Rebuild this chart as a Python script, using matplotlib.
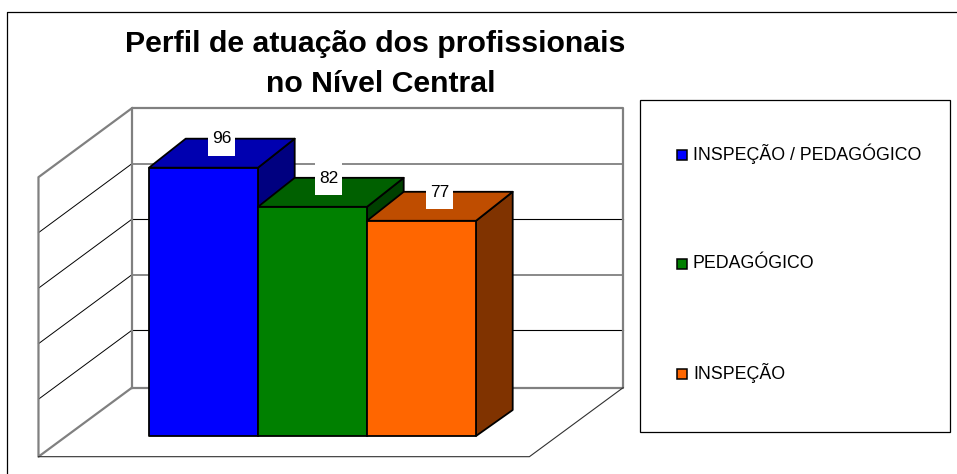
import matplotlib
matplotlib.use("Agg")
import matplotlib.pyplot as plt
from matplotlib.patches import Polygon, Rectangle
from matplotlib.lines import Line2D

plt.rcParams['font.family'] = ['Liberation Sans', 'DejaVu Sans']

categories = ['INSPEÇÃO / PEDAGÓGICO', 'PEDAGÓGICO', 'INSPEÇÃO']
values = [96, 82, 77]
grid_values = [20, 40, 60, 80]

front_colors = ['#0000FF', '#008000', '#FF6600']
top_colors = ['#0000B0', '#006000', '#BF4D00']
side_colors = ['#000080', '#004000', '#803300']

W, H = 957, 474
PX_X = 109.0    # pixels for one bar width
PX_Y = 2.795    # pixels for one value unit

fig = plt.figure(figsize=(W / 100, H / 100), dpi=100)
ax = fig.add_axes([0, 0, 1, 1])
ax.set_xlim(-149 / PX_X, (W - 149) / PX_X)
ax.set_ylim((436 - H) / PX_Y, 436 / PX_Y)
ax.axis('off')


def fx(x):
    return x / W


def fy(y):
    return 1 - y / H


# outer frame, only top and left are in the picture
fig.add_artist(Line2D([fx(7.5), fx(7.5), fx(W)], [0, fy(11.5), fy(11.5)], color='black', lw=0.9))

# 3d box: walls and floor
wall_x0 = -0.156
wall_x1 = 4.35
wall_y0 = 17.3
wall_dx = 0.858
wall_dy = 24.7
wall_top = 100
front_x1 = 3.49
grid_squeeze = 0.993   # gridlines sit a little closer together than the bars' scale

# the source renders every other gridline heavier and gray
grid_style = [('#000000', 0.8), ('#808080', 1.3), ('#000000', 0.8), ('#808080', 1.3)]
for v, (c, w) in zip(grid_values, grid_style):
    gy = wall_y0 + wall_top - (wall_top - v) * grid_squeeze
    ax.plot([wall_x0, wall_x1], [gy, gy], color=c, lw=w, zorder=1)
    ax.plot([wall_x0 - wall_dx, wall_x0], [gy - wall_dy, gy], color='black', lw=0.7, zorder=1)

gray = '#808080'
ax.plot([wall_x0, wall_x0, wall_x1, wall_x1, wall_x0], [wall_y0, wall_y0 + wall_top, wall_y0 + wall_top, wall_y0, wall_y0],
        color=gray, lw=1.6, zorder=1)
ax.plot([wall_x0, wall_x0 - wall_dx, wall_x0 - wall_dx, wall_x0],
        [wall_y0 + wall_top, wall_y0 + wall_top - wall_dy, wall_y0 - wall_dy, wall_y0], color=gray, lw=1.6, zorder=1)
ax.plot([wall_x0 - wall_dx, front_x1, wall_x1], [wall_y0 - wall_dy, wall_y0 - wall_dy, wall_y0],
        color='#303030', lw=0.8, zorder=1)

# bars
bar_dx = 36.7 / PX_X
bar_dy = 29 / PX_Y
bar_dy0 = 26 / PX_Y
for i, v in enumerate(values):
    x0, x1 = i, i + 1
    kw = dict(edgecolor='black', lw=1.3, joinstyle='round', zorder=2 + i)
    ax.add_patch(Polygon([(x1, 0), (x1, v), (x1 + bar_dx, v + bar_dy), (x1 + bar_dx, bar_dy0)], facecolor=side_colors[i], **kw))
    ax.add_patch(Polygon([(x0, v), (x1, v), (x1 + bar_dx, v + bar_dy), (x0 + bar_dx, v + bar_dy)], facecolor=top_colors[i], **kw))
    ax.add_patch(Rectangle((x0, 0), 1, v, facecolor=front_colors[i], **kw))

# data labels with the white box behind
box_w = 27 / PX_X
box_h = 33 / PX_Y
label_shift = [0, -2 / PX_X, 0]
for i, v in enumerate(values):
    cx = i + 0.5 + bar_dx / 2 + label_shift[i]
    cy = v + bar_dy - 0.4
    ax.add_patch(Rectangle((cx - box_w / 2, cy - box_h / 2), box_w, box_h, facecolor='white', edgecolor='none', zorder=10))
    ax.text(cx, cy + 0.3, str(v), ha='center', va='center', fontsize=12.5, color='black', zorder=11)

# title
fig.text(fx(375.5), fy(44.5), 'Perfil de atuação dos profissionais', ha='center', va='center',
         fontsize=21.8, fontweight='bold', color='black')
fig.text(fx(380.5), fy(84), 'no Nível Central', ha='center', va='center',
         fontsize=21.8, fontweight='bold', color='black')

# legend box
fig.add_artist(Rectangle((fx(640.3), fy(432.3)), (950.3 - 640.3) / W, (432.3 - 100.3) / H, transform=fig.transFigure,
                         facecolor='white', edgecolor='black', lw=0.9))
legend_y = [155, 264.3, 373.7]
for name, col, ly in zip(categories, front_colors, legend_y):
    fig.add_artist(Rectangle((fx(676.5), fy(ly + 5)), 10 / W, 10 / H, transform=fig.transFigure,
                             facecolor=col, edgecolor='black', lw=1.1))
    fig.text(fx(693), fy(ly - 1), name, ha='left', va='center', fontsize=12.8, color='black')

fig.savefig('out.png', dpi=100)
